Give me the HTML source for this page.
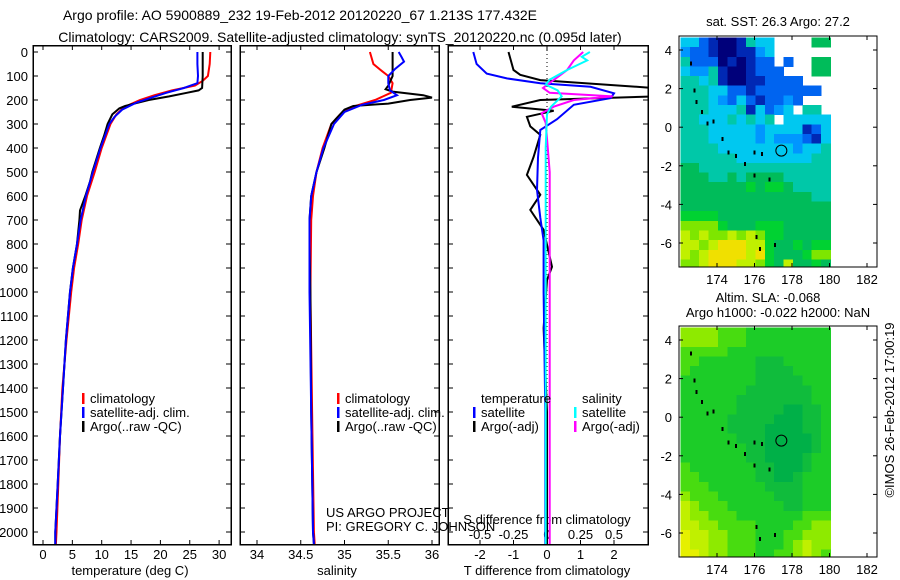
<!DOCTYPE html>
<html><head><meta charset="utf-8">
<style>
html,body{margin:0;padding:0;background:#fff;}
svg{display:block;font-family:"Liberation Sans",sans-serif;}
text{fill:#000;}
</style></head>
<body>
<svg id="fig" width="900" height="580" viewBox="0 0 900 580" xmlns="http://www.w3.org/2000/svg">
<defs>
<clipPath id="c1"><rect x="33" y="45" width="198" height="500"/></clipPath>
<clipPath id="c2"><rect x="240" y="45" width="199" height="500"/></clipPath>
<clipPath id="c3"><rect x="448" y="45" width="200" height="500"/></clipPath>
<clipPath id="m1"><rect x="679" y="36" width="198" height="231"/></clipPath>
<clipPath id="m2"><rect x="679" y="326" width="198" height="231"/></clipPath>
</defs>
<text x="300" y="20" font-size="14" text-anchor="middle">Argo profile: AO 5900889_232 19-Feb-2012 20120220_67 1.213S 177.432E</text>
<text x="340" y="42" font-size="14" text-anchor="middle">Climatology: CARS2009. Satellite-adjusted climatology: synTS_20120220.nc (0.095d later)</text>
<g id="g"></g>
</svg>
<script>
// ---------- profile data ----------
const tClimDepth = [0,50,100,120,140,160,180,200,230,260,300,400,500,600,700,800,900,1000,1200,1400,1600,1800,2000,2050];
const tClim      = [28.5,28.4,28.1,27.2,25.9,22.0,19.0,16.5,13.8,12.5,11.5,10.0,8.8,7.5,6.6,6.0,5.3,4.8,4.0,3.3,2.9,2.6,2.3,2.2];
const tSatDepth  = [0,50,100,130,150,170,190,210,240,270,300,400,500,600,700,800,900,1000,1200,1400,1600,1800,2000,2050];
const tSat       = [26.3,26.3,26.4,26.3,24.0,21.0,18.5,16.0,13.5,12.2,11.3,9.8,8.5,7.3,6.4,5.8,5.1,4.6,3.9,3.4,2.9,2.5,2.1,2.1];
const tArgoDepth = [0,50,100,150,160,170,185,200,215,225,235,260,300,350,400,500,540,600,660,700,800,900,1000,1200,1400,1600,1800,2000,2050];
const tArgo      = [27.2,27.2,27.2,27.1,26.5,24.5,21.5,18.0,15.5,14.0,13.0,11.8,11.0,10.4,9.7,8.4,8.0,7.2,6.3,6.2,5.8,5.1,4.6,3.9,3.4,2.9,2.5,2.1,2.1];

const sClimDepth = [0,50,80,100,130,170,200,230,260,300,400,500,600,700,1000,1500,2000,2050];
const sClim      = [35.29,35.33,35.43,35.5,35.55,35.53,35.35,35.08,34.95,34.85,34.75,34.68,34.64,34.62,34.61,34.63,34.65,34.66];
const sSatDepth  = [0,20,40,70,100,130,160,180,200,220,250,300,400,500,600,700,1000,1500,2000,2050];
const sSat       = [35.62,35.65,35.68,35.58,35.5,35.5,35.52,35.6,35.45,35.2,35.0,34.88,34.76,34.68,34.62,34.6,34.6,34.62,34.64,34.65];
const sArgoDepth = [0,100,140,155,165,180,190,200,215,225,240,260,280,300,400,500,600,700,800,1000,1500,2000,2050];
const sArgo      = [35.55,35.55,35.5,35.47,35.55,35.9,36.0,35.75,35.5,35.1,35.0,34.95,34.9,34.85,34.77,34.68,34.62,34.6,34.6,34.61,34.62,34.64,34.65];

const dTSatDepth = [0,50,90,110,130,145,172,192,220,280,325,440,575,690,785,1000,1500,2050];
const dTSat      = [-2.2,-2.1,-1.8,-1.2,-0.2,1.3,2.0,1.9,0.8,0.3,-0.2,-0.27,-0.3,-0.2,-0.1,-0.1,-0.05,-0.05];
const dTArgoDepth= [0,75,95,117,150,185,200,228,245,270,310,345,437,512,595,658,741,895,950,1150,1500,2050];
const dTArgo     = [-1.15,-1.0,-0.8,-0.2,3.2,3.2,-0.2,-1.05,0.2,-0.6,-0.5,-0.2,-0.4,-0.6,-0.2,-0.5,-0.1,0.15,0.0,-0.1,0.0,0.0];
const dSSatDepth = [0,20,35,75,115,136,160,185,228,260,400,1000,2050];
const dSSat      = [0.32,0.26,0.3,0.15,0.02,-0.01,0.08,0.11,0.03,0.0,-0.01,-0.01,-0.01];
const dSArgoDepth= [0,35,75,150,170,185,200,228,255,295,360,500,1000,2050];
const dSArgo     = [0.27,0.2,0.15,-0.03,0.02,0.49,0.2,0.05,-0.04,-0.01,0.0,0.02,0.02,0.02];

const depthTicks = [0,100,200,300,400,500,600,700,800,900,1000,1100,1200,1300,1400,1500,1600,1700,1800,1900,2000];
const tTicks = [0,5,10,15,20,25,30];
const sTicks = [34,34.5,35,35.5,36];
const dTTicks = [-2,-1,0,1,2];
const dSTicks = [-0.5,-0.25,0,0.25,0.5];
const lonTicks = [174,176,178,180,182];
const latTicks = [4,2,0,-2,-4,-6];

// ---------- map data (rows from north, 0.5 deg cells, lon 172.05..180.05) ----------
const sstRows = [
"5532112655....77","4332112245......","6333121233 3..77","54462112333...77",
"6656211223333...","666553323333333.","6665435323343...","666555625345.66.",
"6655565656.55555","6665555545555235","6665555545444325","6666555555554556",
"6666665555555566","7766666666666666","7776676777766666","7777777878876666",
"7777777777777766","7777777777777777","8888777777777777","9999877788877777",
"a9a99a9a98877777","aa9abbbaa8778788","a9abbbbab8777899","99abbbaa987a7787"];
const slaRows = [
"9999888777777777","9999888777777777","8888877777777777","8877777766677777",
"8777777766667777","7777777766666777","7777777666666677","7777776666666677",
"7777776666655667","7777766666555667","7777766665555667","7777776665555567",
"7777777665555567","7777777665555677","8777777766555677","8877777766556777",
"8887777776666777","9888777777666777","a988877777766777","a998887777777888",
"aa99888877778899","baa9988877788999","baa9988877789a99","bba9988877889a98"];
const islandLon = [172.6,172.8,172.9,173.2,173.5,173.8,174.3,174.6,175.0,175.5,176.0,176.4,176.0,176.8,176.1,176.3,177.1];
const islandLat = [3.3,1.9,1.3,0.8,0.2,0.3,-0.6,-1.3,-1.5,-1.9,-1.3,-1.4,-2.5,-2.7,-5.7,-6.3,-6.1];
const profLon = 177.432, profLat = -1.213;

const sstPal = {'1':'#00007a','2':'#0028b4','3':'#0064f0','4':'#0096ff','5':'#00c8f0','6':'#00c8a8','7':'#00bc5a','8':'#00d232','9':'#7ee600','a':'#c0f000','b':'#f0e000'};
const slaPal = {'5':'#00b048','6':'#10bc3c','7':'#1ccc28','8':'#48dc10','9':'#8eea00','a':'#c0f000','b':'#e6f000'};

// ---------- helpers ----------
const NS='http://www.w3.org/2000/svg';
const G=document.getElementById('g');
function el(tag,attrs,parent){const e=document.createElementNS(NS,tag);for(const k in attrs)e.setAttribute(k,attrs[k]);(parent||G).appendChild(e);return e;}
function txt(x,y,s,size,anchor,parent){const t=el('text',{x:x,y:y,'font-size':size,'text-anchor':anchor||'middle'},parent);t.textContent=s;return t;}
const yD = d => 52 + d*0.24;
const xT = v => 43 + v*5.87;
const xS = v => 257 + (v-34)*87.5;
const xdT = v => 547 + v*33.5;
const xdS = v => 547 + v*134;

function line(depths, vals, fx, color, clip, name, w){
  const pts = depths.map((d,i)=>fx(vals[i]).toFixed(1)+','+yD(d).toFixed(1)).join(' ');
  const p = el('polyline',{points:pts,fill:'none',stroke:color,'stroke-width':w||2,'clip-path':'url(#'+clip+')'});
  
  
}

function panel(x0,x1,name){
  const g=el('g',{});
  
  
  el('rect',{x:x0,y:45.5,width:x1-x0,height:499,fill:'none',stroke:'#000','stroke-width':1.5,'shape-rendering':'crispEdges'},g);
  depthTicks.forEach(d=>{
    el('line',{x1:x0,x2:x0+5,y1:yD(d),y2:yD(d),stroke:'#000'},g);
    el('line',{x1:x1,x2:x1-5,y1:yD(d),y2:yD(d),stroke:'#000'},g);
  });
  return g;
}

// depth labels
const yl=el('g',{});


depthTicks.forEach(d=>{ txt(28,yD(d)+5,String(d),13,'end',yl); });

// panel 1 temperature
const p1=panel(33,231,'temperature-panel');
tTicks.forEach(v=>{el('line',{x1:xT(v),x2:xT(v),y1:45,y2:50,stroke:'#000'},p1);el('line',{x1:xT(v),x2:xT(v),y1:545,y2:540,stroke:'#000'},p1);txt(xT(v),559,String(v),13,'middle',p1);});
txt(130,575,'temperature (deg C)',13,'middle',p1);
line(tClimDepth,tClim,xT,'#ff0000','c1','temp-climatology-line');
line(tArgoDepth,tArgo,xT,'#000000','c1','temp-argo-line');
line(tSatDepth,tSat,xT,'#0000ff','c1','temp-satellite-line');

// panel 2 salinity
const p2=panel(240,439,'salinity-panel');
sTicks.forEach(v=>{el('line',{x1:xS(v),x2:xS(v),y1:45,y2:50,stroke:'#000'},p2);el('line',{x1:xS(v),x2:xS(v),y1:545,y2:540,stroke:'#000'},p2);txt(xS(v),559,String(v),13,'middle',p2);});
txt(337,575,'salinity',13,'middle',p2);
line(sClimDepth,sClim,xS,'#ff0000','c2','sal-climatology-line');
line(sArgoDepth,sArgo,xS,'#000000','c2','sal-argo-line');
line(sSatDepth,sSat,xS,'#0000ff','c2','sal-satellite-line');

// panel 3 differences
const p3=panel(448,648,'difference-panel');
el('line',{x1:547,x2:547,y1:46,y2:544,stroke:'#000','stroke-dasharray':'1,3'},p3);
dTTicks.forEach(v=>{el('line',{x1:xdT(v),x2:xdT(v),y1:545,y2:540,stroke:'#000'},p3);txt(xdT(v),559,String(v),13,'middle',p3);});
dSTicks.forEach(v=>{el('line',{x1:xdS(v),x2:xdS(v),y1:45,y2:50,stroke:'#000'},p3);txt(xdS(v),539,String(v),13,'middle',p3);});
txt(547,524,'S difference from climatology',13,'middle',p3);
txt(547,575,'T difference from climatology',13,'middle',p3);
line(dTArgoDepth,dTArgo,xdT,'#000000','c3','tdiff-argo-line');
line(dTSatDepth,dTSat,xdT,'#0000ff','c3','tdiff-satellite-line');
line(dSArgoDepth,dSArgo,xdS,'#ff00ff','c3','sdiff-argo-line');
line(dSSatDepth,dSSat,xdS,'#00ffff','c3','sdiff-satellite-line');

// legends
function legend(x,y,items,name){
  const g=el('g',{});
  
  
  items.forEach((it,i)=>{
    if(it[0]) el('rect',{x:x,y:y+i*14-10,width:2.5,height:11,fill:it[0]},g);
    txt(x+8,y+i*14,it[1],13,'start',g);
  });
}
legend(82,403,[['#ff0000','climatology'],['#0000ff','satellite-adj. clim.'],['#000','Argo(..raw -QC)']],'temperature-legend');
legend(337,403,[['#ff0000','climatology'],['#0000ff','satellite-adj. clim.'],['#000','Argo(..raw -QC)']],'salinity-legend');
legend(473,403,[[null,'temperature'],['#0000ff','satellite'],['#000','Argo(-adj)']],'tdiff-legend');
legend(574,403,[[null,'salinity'],['#00ffff','satellite'],['#ff00ff','Argo(-adj)']],'sdiff-legend');
{const t=txt(326,517,'US ARGO PROJECT',13,'start');}
{const t=txt(326,531,'PI: GREGORY C. JOHNSON',13,'start');}

// maps
function map(top,rows,pal,clip,name,yLat4){
  const g=el('g',{});
  
  
  const xL = lon => 717 + (lon-174)*18.75;
  const yL = lat => yLat4 - (lat-4)*19.3;
  const cg=el('g',{'clip-path':'url(#'+clip+')','shape-rendering':'crispEdges'},g);
  rows.forEach((r,j)=>{
    for(let i=0;i<r.length;i++){
      const c=pal[r[i]]; if(!c) continue;
      const lon=172.05+i*0.5, lat=4.65-j*0.5;
      el('rect',{x:xL(lon).toFixed(1),y:yL(lat).toFixed(1),width:9.9,height:10.1,fill:c},cg);
    }
  });
  islandLon.forEach((lo,i)=>{el('rect',{x:xL(lo)-1,y:yL(islandLat[i])-2,width:2,height:4,fill:'#000'},cg);});
  const circ=el('circle',{cx:xL(profLon),cy:yL(profLat),r:5.5,fill:'none',stroke:'#000','stroke-width':1},g);
  
  
  el('rect',{x:679,y:top,width:198,height:231,fill:'none',stroke:'#000','stroke-width':1.3,'shape-rendering':'crispEdges'},g);
  lonTicks.forEach(v=>{el('line',{x1:xL(v),x2:xL(v),y1:top,y2:top+4,stroke:'#000'},g);el('line',{x1:xL(v),x2:xL(v),y1:top+231,y2:top+227,stroke:'#000'},g);txt(xL(v),top+248,String(v),13,'middle',g);});
  latTicks.forEach(v=>{el('line',{x1:679,x2:683,y1:yL(v),y2:yL(v),stroke:'#000'},g);el('line',{x1:877,x2:873,y1:yL(v),y2:yL(v),stroke:'#000'},g);txt(672,yL(v)+5,String(v),13,'end',g);});
}
map(36,sstRows,sstPal,'m1','sst-map',50);
map(326,slaRows,slaPal,'m2','sla-map',340);
{const t=txt(778,26,'sat. SST: 26.3 Argo: 27.2',13,'middle');}
{const t=txt(768,302,'Altim. SLA: -0.068',13,'middle');}
{const t=txt(778,317,'Argo h1000: -0.022 h2000: NaN',13,'middle');}
{const t=txt(0,0,'©IMOS 26-Feb-2012 17:00:19',13,'middle');t.setAttribute('transform','translate(894,410) rotate(-90)');}
</script>
</body></html>
